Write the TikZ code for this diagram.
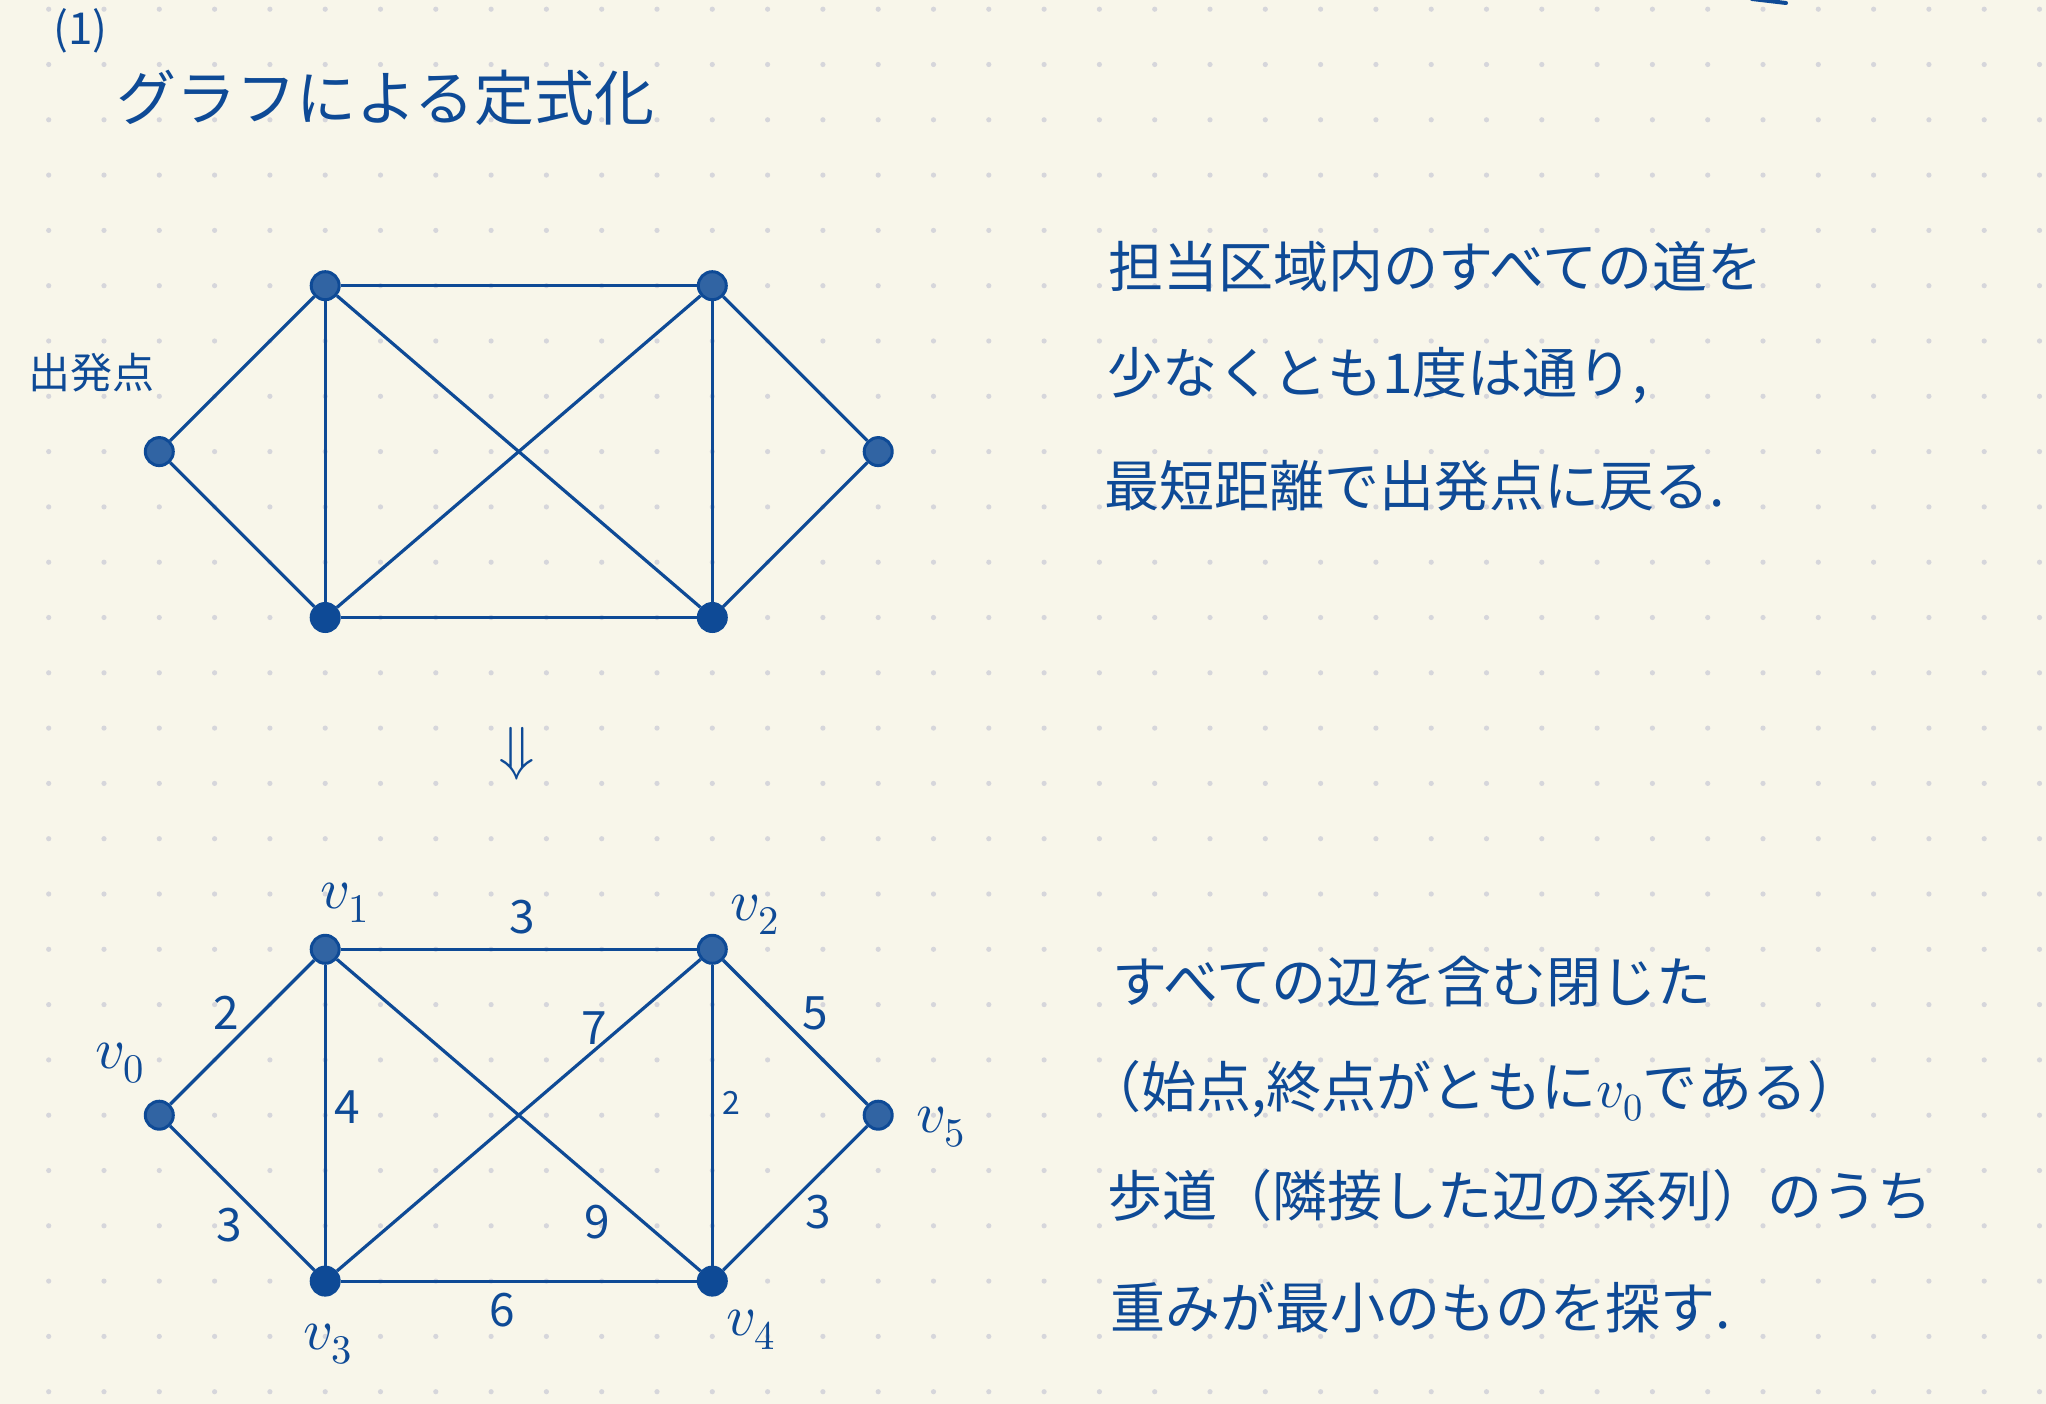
\documentclass[tikz,border=0pt]{standalone}
\usepackage{fontspec}
\usepackage{unicode-math}
\setmathfont{Latin Modern Math}
\newfontfamily\jp{Noto Sans CJK JP}
\definecolor{ink}{HTML}{0E4A96}
\definecolor{paper}{HTML}{F8F6EA}
\definecolor{gdot}{HTML}{D6D6DB}
\begin{document}
\begin{tikzpicture}[x=1pt,y=-1pt,
  hatchv/.style={circle, draw=ink, line width=3pt, fill=ink!85!paper, minimum size=28pt, inner sep=0pt},
  solidv/.style={circle, draw=ink, line width=3pt, fill=ink, minimum size=28pt, inner sep=0pt},
  edg/.style={draw=ink, line width=3.2pt},
  txt/.style={anchor=base west, inner sep=0pt, text=ink, font=\jp\fontsize{55}{60}\selectfont},
  wlab/.style={anchor=center, inner sep=0pt, text=ink, font=\jp\fontsize{46}{50}\selectfont},
  vlab/.style={anchor=center, inner sep=0pt, text=ink, font=\fontsize{58}{62}\selectfont}]
\useasboundingbox (0,0) rectangle (2046,1404);
\fill[paper] (0,0) rectangle (2046,1404);
% dot grid
\foreach \i in {0,...,36}{
  \foreach \j in {0,...,25}{
    \fill[gdot] ({48.7+55.3*\i},{9.2+55.3*\j}) circle (2.6);
  }
}
% stroke fragment at top edge
\draw[ink, line width=4pt, line cap=round] (1752,-1) -- (1786,3);
% title
\node[anchor=base west, inner sep=0pt, text=ink, font=\jp\fontsize{44}{48}\selectfont] (num) at (53,45) {(1)};
\node[anchor=base west, inner sep=0pt, text=ink, font=\jp\fontsize{60}{66}\selectfont] (title) at (116,121) {グラフによる定式化};
% top graph
\node[hatchv] (A) at ({48.7+55.3*2},{9.2+55.3*8}) {};
\node[hatchv] (B) at ({48.7+55.3*5},{9.2+55.3*5}) {};
\node[hatchv] (C) at ({48.7+55.3*12},{9.2+55.3*5}) {};
\node[hatchv] (D) at ({48.7+55.3*15},{9.2+55.3*8}) {};
\node[solidv] (E) at ({48.7+55.3*5},{9.2+55.3*11}) {};
\node[solidv] (F) at ({48.7+55.3*12},{9.2+55.3*11}) {};
\draw[edg] (A) -- (B);
\draw[edg] (A) -- (E);
\draw[edg] (B) -- (C);
\draw[edg] (B) -- (E);
\draw[edg] (B) -- (F);
\draw[edg] (C) -- (E);
\draw[edg] (C) -- (F);
\draw[edg] (C) -- (D);
\draw[edg] (E) -- (F);
\draw[edg] (F) -- (D);
\node[anchor=base west, inner sep=0pt, text=ink, font=\jp\fontsize{42}{46}\selectfont] (start) at (28,389) {出発点};
% arrow
\node[anchor=center, inner sep=0pt, text=ink, font=\fontsize{60}{66}\selectfont] (darr) at (517,754) {$\Downarrow$};
% bottom graph
\node[hatchv] (v0) at ({48.7+55.3*2},{9.2+55.3*20}) {};
\node[hatchv] (v1) at ({48.7+55.3*5},{9.2+55.3*17}) {};
\node[hatchv] (v2) at ({48.7+55.3*12},{9.2+55.3*17}) {};
\node[hatchv] (v5) at ({48.7+55.3*15},{9.2+55.3*20}) {};
\node[solidv] (v3) at ({48.7+55.3*5},{9.2+55.3*23}) {};
\node[solidv] (v4) at ({48.7+55.3*12},{9.2+55.3*23}) {};
\draw[edg] (v0) -- (v1);
\draw[edg] (v0) -- (v3);
\draw[edg] (v1) -- (v2);
\draw[edg] (v1) -- (v3);
\draw[edg] (v1) -- (v4);
\draw[edg] (v2) -- (v3);
\draw[edg] (v2) -- (v4);
\draw[edg] (v2) -- (v5);
\draw[edg] (v3) -- (v4);
\draw[edg] (v4) -- (v5);
% weights
\node[wlab] (w12) at (522,917) {3};
\node[wlab] (w01) at (226,1013) {2};
\node[wlab] (w23) at (594,1028) {7};
\node[wlab] (w25) at (815,1013) {5};
\node[wlab] (w13) at (347,1107) {4};
\node[wlab, font=\jp\fontsize{32}{36}\selectfont] (w24) at (731,1103) {2};
\node[wlab] (w03) at (229,1225) {3};
\node[wlab] (w14) at (597,1222) {9};
\node[wlab] (w45) at (818,1212) {3};
\node[wlab] (w34) at (502,1310) {6};
% vertex labels
\node[vlab] (l0) at (120,1063) {$v_0$};
\node[vlab] (l1) at (345,903) {$v_1$};
\node[vlab] (l2) at (755,915) {$v_2$};
\node[vlab] (l3) at (328,1344) {$v_3$};
\node[vlab] (l4) at (751,1330) {$v_4$};
\node[vlab] (l5) at (941,1127) {$v_5$};
% right text (top)
\node[txt] (t1) at (1108,288) {担当区域内のすべての道を};
\node[txt] (t2) at (1107,394) {少なくとも1度は通り,};
\node[txt] (t3) at (1104,506) {最短距離で出発点に戻る.};
% right text (bottom)
\node[txt] (b1) at (1112,1002) {すべての辺を含む閉じた};
\node[txt] (b2) at (1086,1107) {（始点,終点がともに$v_0$である）};
\node[txt] (b3) at (1107,1216) {歩道（隣接した辺の系列）のうち};
\node[txt] (b4) at (1110,1328) {重みが最小のものを探す.};
\end{tikzpicture}
\end{document}
